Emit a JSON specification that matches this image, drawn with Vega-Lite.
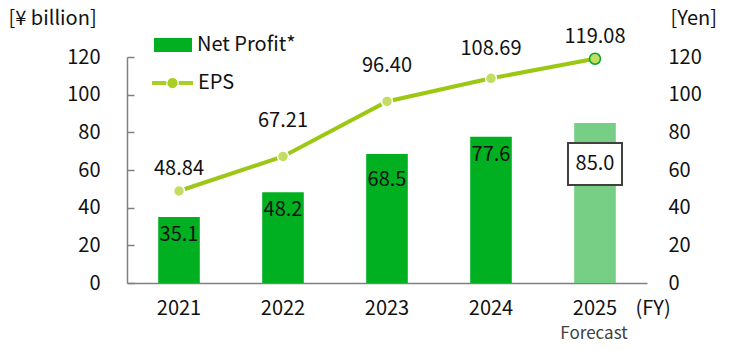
{
  "$schema": "https://vega.github.io/schema/vega-lite/v6.json",
  "width": 520,
  "height": 226,
  "autosize": {"type": "none"},
  "padding": {"left": 127, "top": 57, "right": 93, "bottom": 67},
  "background": "white",
  "config": {
    "view": {"stroke": null},
    "font": "Noto Sans CJK JP",
    "axis": {"labelFont": "Noto Sans CJK JP", "titleFont": "Noto Sans CJK JP"},
    "legend": {"labelFont": "Noto Sans CJK JP"},
    "text": {"font": "Noto Sans CJK JP"}
  },
  "data": {
    "values": [
      {"year": "2021", "profit": 35.1, "eps": 48.84},
      {"year": "2022", "profit": 48.2, "eps": 67.21},
      {"year": "2023", "profit": 68.5, "eps": 96.40},
      {"year": "2024", "profit": 77.6, "eps": 108.69},
      {"year": "2025", "profit": 85.0, "eps": 119.08}
    ]
  },
  "title": {"text": "Forecast", "orient": "bottom", "anchor": "middle", "dx": 207, "offset": 8, "fontSize": 17, "fontWeight": "normal", "color": "#404040", "font": "Noto Sans CJK JP"},
  "encoding": {
    "x": {
      "field": "year", "type": "ordinal",
      "scale": {"paddingInner": 0.6, "paddingOuter": 0.3},
      "axis": {"orient": "bottom", "domainColor": "#808080", "domainWidth": 1.5, "ticks": false, "labelAngle": 0, "labelFontSize": 20, "labelColor": "#111111", "labelPadding": 15, "title": "(FY)", "titleX": 508, "titleY": 25, "titleAlign": "left", "titleBaseline": "middle", "titleFontSize": 20, "titleFontWeight": "normal", "titleColor": "#111111"}
    }
  },
  "layer": [
    {
      "encoding": {
        "y": {
          "field": "profit", "type": "quantitative",
          "scale": {"domain": [0, 120]},
          "axis": {"orient": "left", "values": [0, 20, 40, 60, 80, 100, 120], "grid": false, "domainColor": "#808080", "domainWidth": 1.5, "tickColor": "#808080", "tickWidth": 1.5, "tickSize": -7, "labelFontSize": 20, "labelColor": "#111111", "labelPadding": 34, "title": "[¥ billion]", "titleAngle": 0, "titleX": -119, "titleY": -39, "titleAlign": "left", "titleBaseline": "middle", "titleFontSize": 20, "titleFontWeight": "normal", "titleColor": "#111111"}
        }
      },
      "layer": [
        {
          "transform": [{"filter": "datum.year != '2025'"}],
          "mark": {"type": "bar"},
          "encoding": {
            "fill": {
              "datum": "Net Profit*",
              "scale": {"range": ["#00b020"]},
              "legend": {"orient": "none", "legendX": 27, "legendY": -31, "title": null, "padding": 0, "symbolType": "M-1,-0.368H1V0.368H-1Z", "symbolSize": 1444, "symbolStrokeWidth": 0, "labelFontSize": 20, "labelOffset": 5, "labelColor": "#111111"}
            }
          }
        },
        {
          "transform": [{"filter": "datum.year == '2025'"}],
          "mark": {"type": "bar", "fill": "#76cf84"}
        },
        {
          "transform": [{"filter": "datum.year != '2023' && datum.year != '2025'"}],
          "mark": {"type": "text", "dy": 18, "baseline": "middle", "fontSize": 20, "color": "#111111"},
          "encoding": {"text": {"field": "profit", "type": "quantitative", "format": ".1f"}}
        },
        {
          "transform": [{"filter": "datum.year == '2023'"}],
          "mark": {"type": "text", "dy": 26, "baseline": "middle", "fontSize": 20, "color": "#111111"},
          "encoding": {"text": {"field": "profit", "type": "quantitative", "format": ".1f"}}
        },
        {
          "transform": [{"filter": "datum.year == '2025'"}],
          "mark": {"type": "point", "shape": "M-1.286,0.952H1.286V2.952H-1.286Z", "size": 1764, "filled": true, "fill": "white", "stroke": "#404040", "strokeWidth": 2, "opacity": 1}
        },
        {
          "transform": [{"filter": "datum.year == '2025'"}],
          "mark": {"type": "text", "dy": 41, "baseline": "middle", "fontSize": 20, "color": "#111111"},
          "encoding": {"text": {"field": "profit", "type": "quantitative", "format": ".1f"}}
        }
      ]
    },
    {
      "encoding": {
        "y": {
          "field": "eps", "type": "quantitative",
          "scale": {"domain": [0, 120]},
          "axis": {"orient": "right", "values": [0, 20, 40, 60, 80, 100, 120], "grid": false, "domain": false, "ticks": false, "tickSize": 0, "labelFontSize": 20, "labelColor": "#111111", "labelPadding": 21, "title": "[Yen]", "titleAngle": 0, "titleX": 23, "titleY": -39, "titleAlign": "left", "titleBaseline": "middle", "titleFontSize": 20, "titleFontWeight": "normal", "titleColor": "#111111"}
        }
      },
      "layer": [
        {
          "mark": {"type": "line", "strokeWidth": 4},
          "encoding": {
            "stroke": {
              "datum": "EPS",
              "scale": {"range": ["#9bc813"]},
              "legend": {"orient": "none", "legendX": 25, "legendY": 5.5, "title": null, "padding": 0, "symbolType": "M-1,-0.1H-0.3V0.1H-1Z M0.3,-0.1H1V0.1H0.3Z M-0.25,0A0.25,0.25 0 1,0 0.25,0A0.25,0.25 0 1,0 -0.25,0Z", "symbolSize": 1681, "labelFontSize": 20, "labelOffset": 5, "labelColor": "#111111", "encode": {"symbols": {"update": {"fill": {"value": "#a8cf24"}, "strokeWidth": {"value": 0}}}}}
            }
          }
        },
        {
          "mark": {"type": "point", "filled": true, "fill": "#c2dd62", "opacity": 1, "size": 120, "strokeWidth": 1.5},
          "encoding": {
            "stroke": {"condition": {"test": "datum.year == '2025'", "value": "#00a82a"}, "value": "white"}
          }
        },
        {
          "transform": [{"filter": "datum.year == '2021' || datum.year == '2025'"}],
          "mark": {"type": "text", "dy": -22, "baseline": "middle", "fontSize": 20, "color": "#111111"},
          "encoding": {"text": {"field": "eps", "type": "quantitative", "format": ".2f"}}
        },
        {
          "transform": [{"filter": "datum.year == '2022' || datum.year == '2023'"}],
          "mark": {"type": "text", "dy": -35, "baseline": "middle", "fontSize": 20, "color": "#111111"},
          "encoding": {"text": {"field": "eps", "type": "quantitative", "format": ".2f"}}
        },
        {
          "transform": [{"filter": "datum.year == '2024'"}],
          "mark": {"type": "text", "dy": -29, "baseline": "middle", "fontSize": 20, "color": "#111111"},
          "encoding": {"text": {"field": "eps", "type": "quantitative", "format": ".2f"}}
        }
      ]
    }
  ],
  "resolve": {"scale": {"y": "independent"}}
}
